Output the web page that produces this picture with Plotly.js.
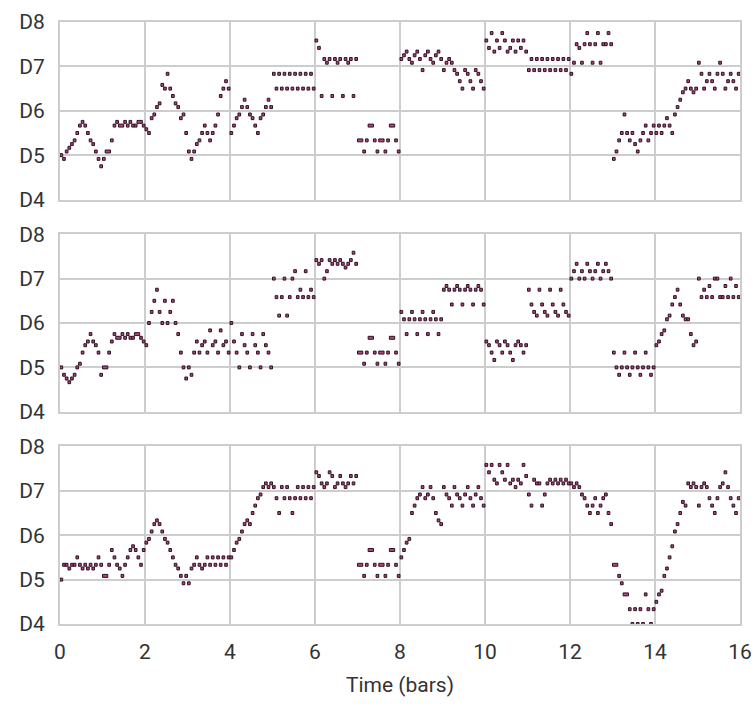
<!DOCTYPE html>
<html>
<head>
<meta charset="utf-8">
<script src="https://cdn.plot.ly/plotly-3.0.1.min.js"></script>
<style>
  html, body { margin: 0; padding: 0; background: #ffffff; }
  #chart { width: 755px; height: 714px; }
</style>
</head>
<body>
<div id="chart"></div>
<script>
// Piano-roll of three continuations of the same passage.
// Pitches are semitones above D4; each row below is one bar of 16 sixteenth-note steps
// (null = no new note on that step).
const _ = null;
const STEPS_PER_BAR = 16;

const pitchTicks = [0, 12, 24, 36, 48];
const pitchLabels = ['D4', 'D5', 'D6', 'D7', 'D8'];
const barTicks = [0, 2, 4, 6, 8, 10, 12, 14, 16];

// bar 7 is the same in every version
const bridgeBar = [16, _, 13, 16, 20, _, 16, 13, 16, _, 13, 16, 20, _, 16, 13];

const track1Steps = [
  12, 11, 13, 14, 15, 16, 18, 20, 21, 20, 18, 16, 15, 13, 11, 9,
  11, 13, _, 16, 20, 21, 20, _, 21, 20, 21, 20, 20, 21, _, 20,
  19, 18, 22, 23, 25, 26, 31, 30, 34, 30, 28, 26, 25, 22, 23, 18,
  13, 11, 13, 15, 16, 18, 20, 18, 16, 18, 20, 23, 28, 30, 32, 30,
  18, 20, 22, 23, 25, 27, 25, 23, 22, 20, 18, 22, 23, 25, 27, 25,
  34, 30, 34, 30, 34, 30, 34, 30, 34, 30, 34, 30, 34, 30, 34, 30,
  43, 41, 28, 38, 37, 38, 28, 38, 37, 38, 28, 38, 37, 38, 28, 38,
  ...bridgeBar,
  38, 39, 40, 38, 37, 39, 40, 38, 35, 39, 40, 38, 37, 39, 40, 38,
  35, 37, 38, 37, 35, 34, 32, 30, 35, 34, 32, 30, 35, 34, 32, 30,
  43, 41, 45, 40, 43, 41, 45, 43, 40, 41, 43, 40, 43, 41, 43, 40,
  35, 38, 35, 38, 35, 38, 35, 38, 35, 38, 35, 38, 35, 38, 35, 38,
  34, 37, 42, 41, 37, 42, 45, 42, 37, 42, 45, 37, 42, 42, 45, 42,
  11, 13, 16, 18, 23, 18, 16, 18, 15, 13, 16, 18, 20, 16, 18, 20,
  18, 20, 18, 20, 22, 20, 18, 23, 25, 27, 29, 30, 32, 30, 29, 30,
  37, 34, 30, 32, 34, 32, 30, 34, 37, 34, 30, 32, 34, 32, 30, 34
];
const track1Held = [17, 22, 29, 112, 116, 120, 124];

const track2Steps = [
  12, 10, 9, 8, 9, 10, 12, 13, 16, 18, 19, 21, 19, 18, 16, 10,
  12, _, 16, 19, 21, 20, _, 21, 20, 21, 20, 20, 21, _, 20, 19,
  18, 24, 27, 30, 33, 27, 24, 30, 24, 27, 30, 24, 21, 16, 12, 9,
  12, 10, 16, 19, 16, 18, 19, 16, 22, 18, 19, 16, 22, 18, 19, 16,
  24, 19, 16, 12, 21, 18, 16, 12, 21, 18, 16, 12, 21, 18, 16, 12,
  36, 31, 26, 31, 36, 26, 31, 36, 38, 31, 33, 31, 38, 31, 33, 31,
  41, 40, 41, 36, 38, 41, 40, 41, 40, 41, 40, 39, 40, 41, 43, 40,
  ...bridgeBar,
  27, 25, 21, 25, 27, 25, 21, 25, 27, 25, 21, 25, 27, 25, 21, 25,
  33, 34, 33, 29, 33, 34, 33, 29, 33, 34, 33, 29, 33, 34, 33, 29,
  19, 18, 16, 14, 19, 18, 16, 19, 18, 16, 14, 18, 19, 18, 16, 18,
  33, 29, 27, 26, 33, 29, 27, 26, 33, 29, 27, 26, 33, 29, 27, 26,
  36, 38, 40, 36, 38, 36, 40, 38, 36, 38, 40, 36, 38, 40, 38, 36,
  16, 12, 10, 12, 16, 12, 10, 12, 16, 12, 10, 12, 16, 12, 10, 12,
  18, 19, 21, 22, 25, 26, 29, 31, 33, 29, 26, 25, 25, 21, 18, 19,
  36, 31, 33, 31, 34, 31, 36, 36, 31, 31, 34, 31, 36, 31, 34, 31
];
const track2Held = [16, 21, 28, 112, 116, 120, 124];

const track3Steps = [
  12, 16, 16, 15, 16, 16, 18, 16, 15, 16, 15, 16, 15, 16, 18, 16,
  13, _, 16, 20, 18, 16, 15, 13, 16, 18, 20, 21, 20, 18, 16, 20,
  22, 23, 25, 27, 28, 27, 25, 23, 22, 20, 18, 16, 15, 13, 11, 13,
  11, 15, 16, 18, 16, 15, 16, 18, 16, 18, 16, 18, 16, 18, 16, 18,
  18, 20, 22, 23, 25, 27, 28, 27, 30, 32, 34, 35, 37, 38, 37, 38,
  37, 34, 30, 37, 34, 37, 34, 30, 34, 37, 34, 37, 34, 37, 34, 37,
  41, 40, 38, 37, 38, 41, 40, 37, 38, 40, 38, 37, 38, 40, 38, 40,
  ...bridgeBar,
  18, 20, 22, 23, 30, 32, 34, 35, 37, 34, 35, 37, 34, 30, 28, 27,
  37, 35, 34, 32, 37, 35, 34, 32, 35, 37, 34, 32, 35, 37, 34, 32,
  43, 41, 43, 39, 38, 43, 41, 39, 43, 38, 39, 37, 39, 38, 43, 40,
  35, 32, 39, 38, 38, 32, 35, 38, 39, 38, 39, 38, 39, 38, 39, 38,
  38, 37, 38, 37, 35, 34, 32, 30, 32, 34, 30, 32, 34, 35, 30, 27,
  16, _, 13, 11, 8, _, 4, 0, 4, 0, 4, 0, 8, 4, 0, 4,
  6, 8, 9, 13, 15, 18, 21, 25, 27, 30, 33, 32, 38, 37, 38, 37,
  32, 37, 38, 37, 34, 32, 30, 34, 37, 38, 41, 37, 34, 32, 30, 34
];
const track3Held = [16, 112, 116, 120, 124, 208, 212];

// turn a step grid into note onsets / lengths measured in bars
function notesOf(steps, held) {
  const onset = [], pitch = [], length = [];
  steps.forEach((p, i) => {
    if (p === null) return;
    onset.push(i / STEPS_PER_BAR);
    pitch.push(p);
    length.push((held.includes(i) ? 2 : 1) / STEPS_PER_BAR);
  });
  return { onset, pitch, length };
}

function rollTrace(steps, held, xa, ya) {
  const n = notesOf(steps, held);
  return {
    type: 'bar',
    orientation: 'h',
    base: n.onset,
    x: n.length,
    y: n.pitch,
    width: 0.8,
    xaxis: xa,
    yaxis: ya,
    marker: { color: '#b4447c', line: { color: '#2c1222', width: 1 } },
    hoverinfo: 'skip',
    showlegend: false
  };
}

const traces = [
  rollTrace(track1Steps, track1Held, 'x', 'y'),
  rollTrace(track2Steps, track2Held, 'x2', 'y2'),
  rollTrace(track3Steps, track3Held, 'x3', 'y3')
];

const labelFont = { family: 'Roboto, sans-serif', size: 21, color: '#333333' };

const frame = {
  showgrid: true, gridcolor: '#cdcdcd', gridwidth: 2,
  zeroline: false, showline: true, mirror: true,
  linecolor: '#cdcdcd', linewidth: 2,
  ticks: 'outside', tickcolor: 'rgba(0,0,0,0)',
  tickfont: labelFont,
  fixedrange: true
};

const xAxis = (anchor, labels) => Object.assign({}, frame, {
  anchor: anchor, domain: [0, 1], range: [0, 16],
  tickmode: 'array', tickvals: barTicks, ticklen: 8,
  showticklabels: labels
});
const yAxis = (domain) => Object.assign({}, frame, {
  domain: domain, range: [0, 48],
  tickmode: 'array', tickvals: pitchTicks, ticktext: pitchLabels, ticklen: 9
});

const layout = {
  width: 755, height: 714,
  margin: { l: 60, r: 15, t: 22, b: 90 },
  paper_bgcolor: '#ffffff', plot_bgcolor: '#ffffff',
  barmode: 'overlay',
  font: { family: 'Roboto, sans-serif', color: '#333333' },
  xaxis: xAxis('y', false),
  xaxis2: Object.assign(xAxis('y2', false), { matches: 'x' }),
  xaxis3: Object.assign(xAxis('y3', true), {
    matches: 'x',
    title: { text: 'Time (bars)', font: labelFont, standoff: 14 }
  }),
  yaxis: yAxis([0.705, 1]),
  yaxis2: yAxis([0.3525, 0.6475]),
  yaxis3: yAxis([0, 0.295])
};

Plotly.newPlot('chart', traces, layout, { displayModeBar: false, staticPlot: true });
</script>
</body>
</html>
